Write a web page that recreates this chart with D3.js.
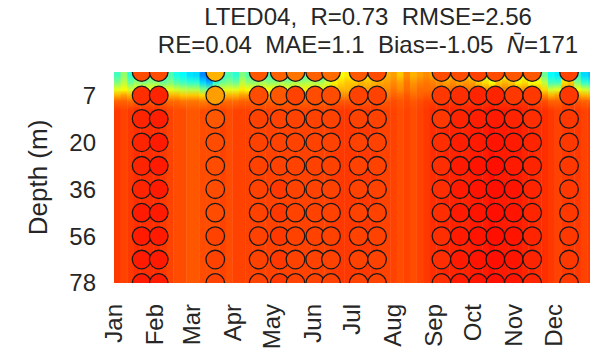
<!DOCTYPE html>
<html>
<head>
<meta charset="utf-8">
<style>
  body { margin: 0; background: #fff; }
  text { font-family: "Liberation Sans", Arial, sans-serif; fill: #262626; }
</style>
</head>
<body>
<svg id="chart"></svg>
<script src="https://cdn.jsdelivr.net/npm/d3@7"></script>
<script>

const width = 590, height = 357
const plot = {left: 114, right: 594, top: 72, bottom: 283}

// observation levels (m), labels shown every second level
const levels = [1, 7, 13, 20, 28, 36, 46, 56, 67, 78]
const tickLevels = [1, 3, 5, 7, 9]
const months = ['Jan','Feb','Mar','Apr','May','Jun','Jul','Aug','Sep','Oct','Nov','Dec']
const monthStart = [0, 31, 59, 90, 120, 151, 181, 212, 243, 273, 304, 334]

const sp = '\u00a0\u00a0'
const titleLine1 = `LTED04,${sp}R=0.73${sp}RMSE=2.56`
const titleLine2 = `RE=0.04${sp}MAE=1.1${sp}Bias=-1.05${sp}`
const nbar = '171'

// model field: 5-day bins, value at depth (level units) bandPos, normalised colour value
const binStep = 5
const bandPos = [0.15, 0.45, 0.75, 1.0, 1.25, 1.65]
const band0 = [0.44,0.52,0.42,0.46,0.44,0.47, 0.46,0.42,0.45,0.40,0.38,0.35, 0.34,0.26,0.20,0.32,0.42,0.45,
  0.42,0.50,0.46,0.44,0.47,0.44, 0.44,0.46,0.42,0.47,0.44,0.46, 0.46,0.44,0.50,0.58,0.62,0.64,
  0.64,0.66,0.65,0.67,0.68,0.70, 0.72,0.68,0.74,0.70,0.72,0.74, 0.72,0.70,0.68,0.70,0.66,0.68,
  0.66,0.60,0.58,0.52,0.60,0.64, 0.62,0.56,0.60,0.54,0.56,0.48, 0.38,0.36,0.60,0.62,0.42,0.34,0.32]
const band1 = [0.50,0.56,0.48,0.52,0.50,0.52, 0.52,0.48,0.50,0.46,0.44,0.42, 0.42,0.34,0.30,0.42,0.48,0.50,
  0.48,0.56,0.52,0.52,0.54,0.52, 0.52,0.54,0.52,0.55,0.54,0.55, 0.55,0.54,0.58,0.64,0.66,0.68,
  0.68,0.70,0.69,0.70,0.71,0.72, 0.74,0.72,0.76,0.73,0.75,0.76, 0.75,0.74,0.72,0.74,0.72,0.73,
  0.72,0.68,0.66,0.62,0.68,0.70, 0.68,0.64,0.66,0.62,0.62,0.56, 0.44,0.44,0.66,0.68,0.50,0.42,0.40]
const band2 = [0.60,0.62,0.58,0.60,0.62,0.62, 0.62,0.60,0.60,0.58,0.56,0.55, 0.55,0.50,0.48,0.58,0.60,0.60,
  0.60,0.64,0.62,0.62,0.62,0.62, 0.62,0.64,0.62,0.64,0.64,0.64, 0.64,0.64,0.66,0.68,0.70,0.70,
  0.71,0.72,0.72,0.73,0.74,0.74, 0.76,0.74,0.77,0.75,0.77,0.77, 0.77,0.76,0.76,0.77,0.76,0.76,
  0.76,0.74,0.73,0.72,0.74,0.75, 0.74,0.72,0.73,0.70,0.70,0.66, 0.58,0.60,0.72,0.72,0.62,0.58,0.56]
const band3 = [0.70,0.72,0.70,0.72,0.72,0.72, 0.72,0.70,0.70,0.70,0.68,0.68, 0.68,0.66,0.66,0.70,0.70,0.70,
  0.70,0.72,0.72,0.72,0.72,0.72, 0.72,0.72,0.72,0.73,0.72,0.72, 0.72,0.72,0.73,0.74,0.74,0.74,
  0.75,0.75,0.76,0.76,0.76,0.76, 0.78,0.77,0.79,0.77,0.78,0.79, 0.79,0.79,0.79,0.79,0.79,0.79,
  0.79,0.78,0.78,0.78,0.79,0.79, 0.78,0.78,0.78,0.76,0.76,0.74, 0.70,0.72,0.76,0.76,0.72,0.70,0.70]
const band4 = [0.78,0.78,0.77,0.78,0.79,0.79, 0.79,0.78,0.77,0.77,0.76,0.76, 0.76,0.75,0.76,0.77,0.77,0.77,
  0.77,0.78,0.78,0.78,0.78,0.78, 0.78,0.78,0.78,0.78,0.78,0.78, 0.78,0.78,0.78,0.79,0.79,0.79,
  0.79,0.79,0.79,0.80,0.79,0.79, 0.80,0.79,0.80,0.79,0.80,0.81, 0.81,0.81,0.82,0.82,0.82,0.82,
  0.82,0.82,0.82,0.82,0.82,0.82, 0.82,0.82,0.82,0.81,0.80,0.80, 0.78,0.78,0.80,0.80,0.79,0.78,0.78]
const band5 = [0.82,0.81,0.82,0.83,0.83,0.83, 0.83,0.82,0.81,0.80,0.80,0.79, 0.79,0.80,0.80,0.80,0.81,0.80,
  0.81,0.81,0.81,0.81,0.81,0.81, 0.81,0.81,0.81,0.81,0.81,0.81, 0.81,0.81,0.81,0.82,0.82,0.82,
  0.82,0.82,0.82,0.82,0.81,0.81, 0.81,0.80,0.81,0.80,0.81,0.82, 0.83,0.83,0.84,0.84,0.84,0.84,
  0.85,0.85,0.85,0.86,0.85,0.85, 0.85,0.85,0.84,0.84,0.83,0.83, 0.82,0.81,0.82,0.82,0.82,0.81,0.82]
const bands = [band0, band1, band2, band3, band4, band5]

// observations: day of year and value at each of the 10 levels
const obsDays = [21, 34, 77, 110, 126, 138, 153, 165, 186, 200, 249, 263, 277, 290, 304, 318, 346]
const obsVals = [
  [0.80,0.83,0.84,0.84,0.84,0.84,0.85,0.85,0.85,0.85],
  [0.80,0.84,0.845,0.85,0.85,0.85,0.85,0.85,0.85,0.85],
  [0.70,0.72,0.79,0.80,0.80,0.80,0.80,0.81,0.81,0.81],
  [0.79,0.80,0.81,0.81,0.81,0.81,0.81,0.81,0.81,0.81],
  [0.78,0.79,0.81,0.81,0.81,0.82,0.82,0.82,0.82,0.82],
  [0.76,0.81,0.81,0.81,0.81,0.81,0.81,0.81,0.81,0.81],
  [0.78,0.80,0.81,0.81,0.81,0.81,0.81,0.81,0.81,0.81],
  [0.77,0.80,0.81,0.81,0.81,0.81,0.81,0.81,0.81,0.81],
  [0.79,0.81,0.81,0.81,0.81,0.81,0.81,0.81,0.81,0.81],
  [0.80,0.81,0.81,0.81,0.81,0.81,0.81,0.81,0.81,0.81],
  [0.80,0.82,0.82,0.83,0.83,0.83,0.83,0.83,0.83,0.83],
  [0.80,0.83,0.84,0.845,0.85,0.85,0.85,0.85,0.85,0.85],
  [0.81,0.84,0.845,0.85,0.855,0.855,0.855,0.855,0.855,0.855],
  [0.80,0.84,0.85,0.855,0.86,0.86,0.86,0.86,0.86,0.86],
  [0.79,0.82,0.84,0.85,0.85,0.855,0.855,0.855,0.855,0.855],
  [0.79,0.82,0.83,0.84,0.84,0.84,0.84,0.84,0.84,0.84],
  [0.81,0.82,0.82,0.82,0.82,0.82,0.82,0.82,0.82,0.82]
]

// matlab style jet
function jet(t) {
  const c = v => Math.max(0, Math.min(1, v))
  return d3.rgb(255*c(1.5 - Math.abs(4*t - 3)), 255*c(1.5 - Math.abs(4*t - 2)), 255*c(1.5 - Math.abs(4*t - 1)))
}
const colorScale = d3.scaleLinear().domain([0, 1]).range([0, 1]).clamp(true)
const color = v => jet(colorScale(v))

const xScale = d3.scaleLinear().domain([0, 365]).range([plot.left, plot.right])
const yScale = d3.scaleLinear().domain([0, 9]).range([plot.top, plot.bottom])

const svg = d3.select('#chart')
  .attr('width', width)
  .attr('height', height)

const defs = svg.append('defs')
defs.append('clipPath').attr('id', 'clip')
  .append('rect')
  .attr('x', plot.left).attr('y', plot.top)
  .attr('width', plot.right - plot.left)
  .attr('height', plot.bottom - plot.top)

const gPlot = svg.append('g').attr('clip-path', 'url(#clip)')

// heatmap: one column per bin, vertical profile as gradient stops
const nBins = band0.length
const grads = defs.selectAll('linearGradient')
  .data(d3.range(nBins))
  .enter()
  .append('linearGradient')
    .attr('id', i => `col${i}`)
    .attr('gradientUnits', 'userSpaceOnUse')
    .attr('x1', 0).attr('x2', 0)
    .attr('y1', yScale(0)).attr('y2', yScale(9))

grads.selectAll('stop')
  .data(i => bands.map((b, j) => ({off: bandPos[j]/9, v: b[i]})))
  .enter()
  .append('stop')
    .attr('offset', d => d.off)
    .attr('stop-color', d => color(d.v))

gPlot.append('g').selectAll('rect')
  .data(d3.range(nBins))
  .enter()
  .append('rect')
    .attr('x', i => xScale(i*binStep))
    .attr('y', yScale(0))
    .attr('width', i => xScale((i + 1)*binStep) - xScale(i*binStep) + 0.4)
    .attr('height', yScale(9) - yScale(0))
    .attr('fill', i => `url(#col${i})`)

// observation circles
const obs = []
obsDays.forEach((day, i) => obsVals[i].forEach((v, k) => obs.push({day, k, v})))

gPlot.append('g').selectAll('circle')
  .data(obs)
  .enter()
  .append('circle')
    .attr('cx', d => xScale(d.day))
    .attr('cy', d => yScale(d.k))
    .attr('r', 9.3)
    .attr('fill', d => color(d.v))
    .attr('stroke', '#1a1a1a')
    .attr('stroke-width', 1.3)

// y tick labels
svg.append('g').selectAll('text')
  .data(tickLevels)
  .enter()
  .append('text')
    .attr('x', 96)
    .attr('y', d => yScale(d))
    .attr('dy', '0.35em')
    .style('text-anchor', 'end')
    .style('font-size', '24px')
    .text(d => levels[d])

svg.append('text')
  .attr('transform', `translate(47, ${(plot.top + plot.bottom)/2}) rotate(-90)`)
  .style('text-anchor', 'middle')
  .style('font-size', '26px')
  .text('Depth (m)')

// month labels
svg.append('g').selectAll('text')
  .data(months)
  .enter()
  .append('text')
    .attr('transform', (d, i) => `translate(${xScale(monthStart[i])}, 304) rotate(-90)`)
    .attr('dy', '0.35em')
    .style('text-anchor', 'end')
    .style('font-size', '24px')
    .text(d => d)

// title
const title = svg.append('g').style('font-size', '24px')
title.append('text')
  .attr('x', 368).attr('y', 25)
  .style('text-anchor', 'middle')
  .text(titleLine1)
const t2 = title.append('text')
  .attr('x', 368).attr('y', 53)
  .style('text-anchor', 'middle')
t2.append('tspan').text(titleLine2)
t2.append('tspan').style('font-style', 'italic').text('N\u0304')
t2.append('tspan').text('=' + nbar)

</script>
</body>
</html>
